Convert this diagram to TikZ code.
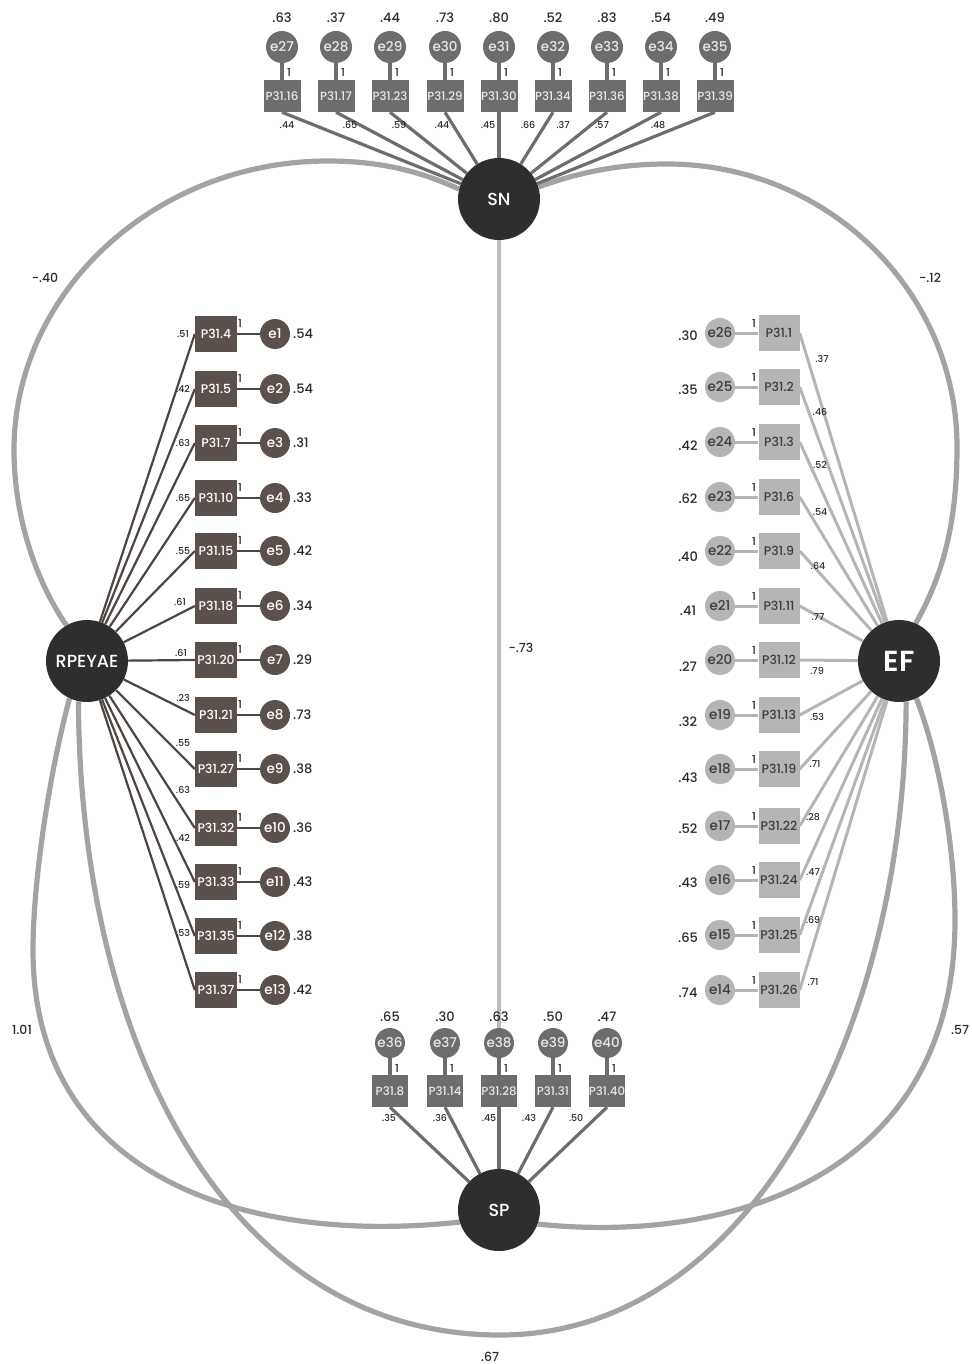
\documentclass[tikz,border=0pt]{standalone}
\usepackage{fontspec}
\setmainfont{Poppins}[UprightFont=* Medium, BoldFont=* SemiBold]
\newcommand\myfs[1]{\fontsize{#1}{#1}\selectfont}
\definecolor{latc}{HTML}{2E2E2E}
\definecolor{topc}{HTML}{6D6D6D}
\definecolor{toptext}{HTML}{E8E8E8}
\definecolor{leftc}{HTML}{5B514C}
\definecolor{leftline}{HTML}{4D4541}
\definecolor{rightc}{HTML}{B5B5B5}
\definecolor{righttext}{HTML}{3D3D3D}
\definecolor{covc}{HTML}{A3A3A3}
\definecolor{snspc}{HTML}{BBBBBB}
\definecolor{labc}{HTML}{2A2A2A}
\pgfdeclarelayer{bg}
\pgfsetlayers{bg,main}
\tikzset{
  lat/.style={circle, fill=latc, minimum size=82pt, inner sep=0pt, text=white, font=\myfs{17.5}},
  topbox/.style={rectangle, fill=topc, minimum width=37pt, minimum height=32pt, inner sep=0pt, text=toptext, font=\myfs{11.8}},
  toperr/.style={circle, fill=topc, minimum size=32pt, inner sep=0pt, text=toptext, font=\myfs{13.5}},
  leftbox/.style={rectangle, fill=leftc, minimum width=42pt, minimum height=36pt, inner sep=0pt, text=white, font=\myfs{12.5}},
  lefterr/.style={circle, fill=leftc, minimum size=30pt, inner sep=0pt, text=white, font=\myfs{13.5}},
  rightbox/.style={rectangle, fill=rightc, minimum width=41pt, minimum height=36pt, inner sep=0pt, text=righttext, font=\myfs{12.5}},
  righterr/.style={circle, fill=rightc, minimum size=30pt, inner sep=0pt, text=righttext, font=\myfs{13.5}},
  varlab/.style={inner sep=0pt, text=labc, font=\myfs{13}},
  loadlab/.style={inner sep=0pt, text=labc, font=\myfs{9.5}},
  onelab/.style={inner sep=0pt, text=labc, font=\myfs{11}},
  covlab/.style={inner sep=0pt, text=labc, font=\myfs{12.5}},
  toplink/.style={draw=topc, line width=3.2pt},
  leftlink/.style={draw=leftline, line width=2.2pt},
  rightlink/.style={draw=rightc, line width=3pt},
  cov/.style={draw=covc, line width=5.2pt},
  snsp/.style={draw=snspc, line width=4pt},
}
\begin{document}
\begin{tikzpicture}[x=1pt,y=-1pt]
\useasboundingbox (0,0) rectangle (971,1364);
% latent variables
\node[lat] (SN) at (499,199) {SN};
\node[lat] (R) at (87,661) {RPEYAE};
\node[lat, font=\myfs{29}\bfseries] (EF) at (899,661) {EF};
\node[lat] (SP) at (499,1210) {SP};

% covariances
\begin{pgfonlayer}{bg}
\draw[cov] (R.120) .. controls (32,575) and (14,510) .. (14,450)
  .. controls (14,292) and (155,161) .. (328,161)
  .. controls (390,161) and (430,176) .. (SN.166);
\draw[cov] (SN.17) .. controls (580,172) and (620,164) .. (667,164)
  .. controls (827,164) and (957,291) .. (957,447)
  .. controls (957,530) and (940,580) .. (EF.66);
\draw[cov] (R.245) .. controls (50,770) and (33,880) .. (33,950)
  .. controls (33,1180) and (250,1245) .. (SP.197);
\draw[cov] (EF.295) .. controls (940,760) and (955,850) .. (955,920)
  .. controls (955,1170) and (740,1245) .. (SP.340);
\draw[cov] (R.258) .. controls (80,1050) and (230,1335) .. (500,1335)
  .. controls (750,1335) and (905,1030) .. (EF.280);
\draw[snsp] (SN) -- (SP);
\end{pgfonlayer}
\node[covlab] (c1) at (45,278) {-.40};
\node[covlab] (c2) at (930,278) {-.12};
\node[covlab] (c3) at (521,648) {-.73};
\node[covlab] (c4) at (22,1030) {1.01};
\node[covlab] (c5) at (960,1030) {.57};
\node[covlab] (c6) at (490,1357) {.67};

% SN indicators
\foreach \i/\x/\p/\e/\v/\l/\lx in {1/282/16/27/.63/.44/287, 2/336/17/28/.37/.65/350,
  3/390/23/29/.44/.59/399, 4/445/29/30/.73/.44/442, 5/499/30/31/.80/.45/488,
  6/553/34/32/.52/.66/528, 7/607/36/33/.83/.37/563, 8/661/38/34/.54/.57/602,
  9/715/39/35/.49/.48/658} {
  \node[topbox] (tb\i) at (\x,96) {P31.\p};
  \node[toperr] (te\i) at (\x,47) {e\e};
  \node[varlab] (tv\i) at (\x,18) {\v};
  \node[onelab] (to\i) at (\x+7,72) {1};
  \node[loadlab] (tl\i) at (\lx,125) {\l};
  \begin{pgfonlayer}{bg}
  \draw[toplink] (tb\i.south) -- (SN);
  \draw[toplink] (te\i) -- (tb\i);
  \end{pgfonlayer}
}

% SP indicators
\foreach \i/\x/\p/\e/\v/\l/\lx in {1/390/8/36/.65/.35/389, 2/445/14/37/.30/.36/440,
  3/499/28/38/.63/.45/489, 4/553/31/39/.50/.43/529, 5/607/40/40/.47/.50/576} {
  \node[topbox, minimum width=36pt] (sb\i) at (\x,1091) {P31.\p};
  \node[toperr, minimum size=30pt] (se\i) at (\x,1043) {e\e};
  \node[varlab] (sv\i) at (\x,1017) {\v};
  \node[onelab] (so\i) at (\x+7,1068) {1};
  \node[loadlab] (sl\i) at (\lx,1118) {\l};
  \begin{pgfonlayer}{bg}
  \draw[toplink] (sb\i.south) -- (SP);
  \draw[toplink] (se\i) -- (sb\i);
  \end{pgfonlayer}
}

% RPEYAE indicators
\foreach \i/\y/\p/\e/\v/\l/\lx/\ly in {1/334/4/1/.54/.51/183/334, 2/389/5/2/.54/.42/183/389,
  3/443/7/3/.31/.63/183/443, 4/498/10/4/.33/.65/183/498, 5/551/15/5/.42/.55/183/551,
  6/606/18/6/.34/.61/180/602, 7/660/20/7/.29/.61/181/653, 8/715/21/8/.73/.23/183/698,
  9/769/27/9/.38/.55/183/743, 10/828/32/10/.36/.63/183/790, 11/882/33/11/.43/.42/183/838,
  12/936/35/12/.38/.59/183/885, 13/990/37/13/.42/.53/183/933} {
  \node[leftbox] (lb\i) at (216,\y) {P31.\p};
  \node[lefterr] (le\i) at (275,\y) {e\e};
  \node[varlab, anchor=west] (lv\i) at (293,\y) {\v};
  \node[onelab] (lo\i) at (240,\y-11) {1};
  \node[loadlab] (ll\i) at (\lx,\ly) {\l};
  \begin{pgfonlayer}{bg}
  \draw[leftlink] (R) -- (lb\i.west);
  \draw[leftlink, line width=2.5pt] (lb\i) -- (le\i);
  \end{pgfonlayer}
}

% EF indicators
\foreach \i/\y/\p/\e/\v/\vy/\l/\lx/\ly in {1/333/1/26/.30/336/.37/822/359,
  2/387/2/25/.35/390/.46/820/412, 3/442/3/24/.42/446/.52/820/465,
  4/497/6/23/.62/499/.54/820/512, 5/551/9/22/.40/557/.64/818/566,
  6/606/11/21/.41/611/.77/818/617, 7/660/12/20/.27/667/.79/817/671,
  8/715/13/19/.32/722/.53/817/717, 9/769/19/18/.43/778/.71/815/764,
  10/826/22/17/.52/829/.28/813/817, 11/880/24/16/.43/883/.47/813/872,
  12/935/25/15/.65/938/.69/813/920, 13/990/26/14/.74/993/.71/813/982} {
  \node[rightbox] (rb\i) at (779,\y) {P31.\p};
  \node[righterr] (re\i) at (720,\y) {e\e};
  \node[varlab] (rv\i) at (688,\vy) {\v};
  \node[onelab] (ro\i) at (754,\y-10) {1};
  \node[loadlab] (rl\i) at (\lx,\ly) {\l};
  \begin{pgfonlayer}{bg}
  \draw[rightlink] (rb\i.east) -- (EF);
  \draw[rightlink] (re\i) -- (rb\i);
  \end{pgfonlayer}
}
\end{tikzpicture}
\end{document}
